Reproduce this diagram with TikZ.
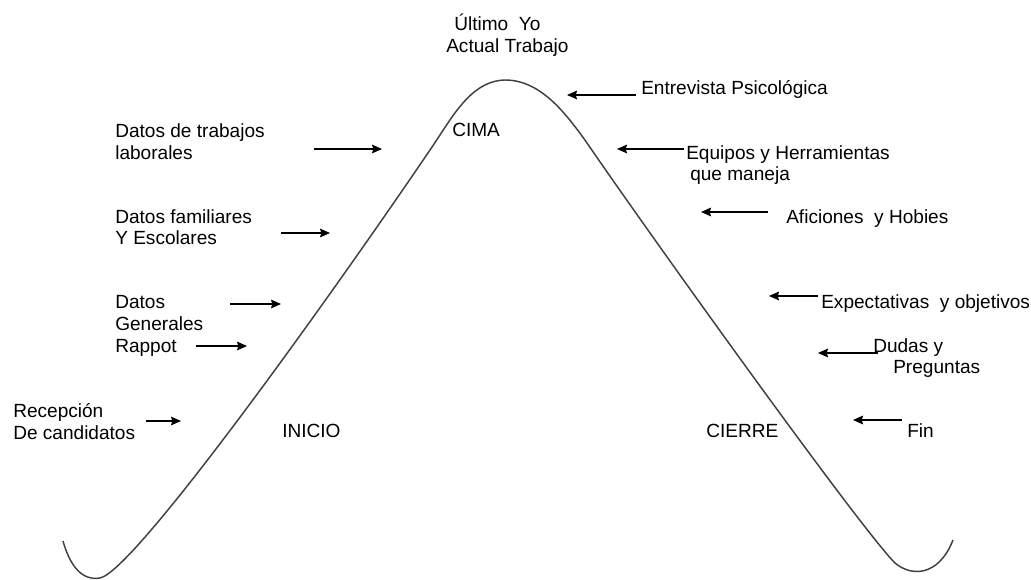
\documentclass[tikz,border=0pt]{standalone}
\usepackage{fontspec}
\setmainfont{Liberation Sans}
\usetikzlibrary{arrows.meta}
\tikzset{
  lbl/.style={inner sep=0pt, anchor=base west, font=\fontsize{14.3pt}{16pt}\selectfont, text=black},
  arr/.style={-{Stealth[length=7.5pt,width=6.5pt,inset=1pt]}, line width=1.1pt, black},
  curveline/.style={line width=1.1pt, black!75}
}
\begin{document}
\begin{tikzpicture}[x=0.75pt,y=-0.75pt]
\useasboundingbox (0,0) rectangle (1031,580);
% main curve
\draw[curveline] (63,541) .. controls (70,566) and (82,581) .. (100,578)
  .. controls (135,571) and (335,290) .. (430,150)
  .. controls (452,118) and (470,81) .. (505,80)
  .. controls (540,80) and (565,112) .. (587,143)
  .. controls (650,235) and (860,528) .. (895,563)
  .. controls (910,576) and (938,578) .. (953,540);
% labels
\node[lbl] (ult) at (454,31) {Último\ \ Yo};
\node[lbl] (act) at (446,53) {Actual Trabajo};
\node[lbl] (cima) at (452,137) {CIMA};
\node[lbl] (inicio) at (282,438) {INICIO};
\node[lbl] (cierre) at (706,438) {CIERRE};
\node[lbl] (entr) at (641,95) {Entrevista Psicológica};
\node[lbl] (trab1) at (115,138) {Datos de trabajos};
\node[lbl] (trab2) at (115,160) {laborales};
\node[lbl] (equi1) at (686,160) {Equipos y Herramientas};
\node[lbl] (equi2) at (690,181) {que maneja};
\node[lbl] (fam1) at (115,224) {Datos familiares};
\node[lbl] (fam2) at (115,245) {Y Escolares};
\node[lbl] (afic) at (786,224) {Aficiones\ \ y Hobies};
\node[lbl] (gen1) at (115,309) {Datos};
\node[lbl] (gen2) at (115,331) {Generales};
\node[lbl] (rapp) at (115,353) {Rappot};
\node[lbl] (expe) at (821,309) {Expectativas\ \ y objetivos};
\node[lbl] (duda1) at (873,353) {Dudas y};
\node[lbl] (duda2) at (893,374) {Preguntas};
\node[lbl] (rec1) at (13,418) {Recepción};
\node[lbl] (rec2) at (13,440) {De candidatos};
\node[lbl] (fin) at (907,438) {Fin};
% arrow end points
\coordinate (a1t) at (636,95);  \coordinate (a1h) at (567,95);
\coordinate (a2t) at (314,149); \coordinate (a2h) at (382,149);
\coordinate (a3t) at (684,149); \coordinate (a3h) at (617,149);
\coordinate (a4t) at (281,233); \coordinate (a4h) at (330,233);
\coordinate (a5t) at (768,212); \coordinate (a5h) at (701,212);
\coordinate (a6t) at (230,304); \coordinate (a6h) at (281,304);
\coordinate (a7t) at (196,346); \coordinate (a7h) at (247,346);
\coordinate (a8t) at (818,296); \coordinate (a8h) at (769,296);
\coordinate (a9t) at (878,353); \coordinate (a9h) at (818,353);
\coordinate (a10t) at (146,421); \coordinate (a10h) at (181,421);
\coordinate (a11t) at (902,420); \coordinate (a11h) at (853,420);
\foreach \i in {1,...,11} \draw[arr] (a\i t) -- (a\i h);
\end{tikzpicture}
\end{document}
